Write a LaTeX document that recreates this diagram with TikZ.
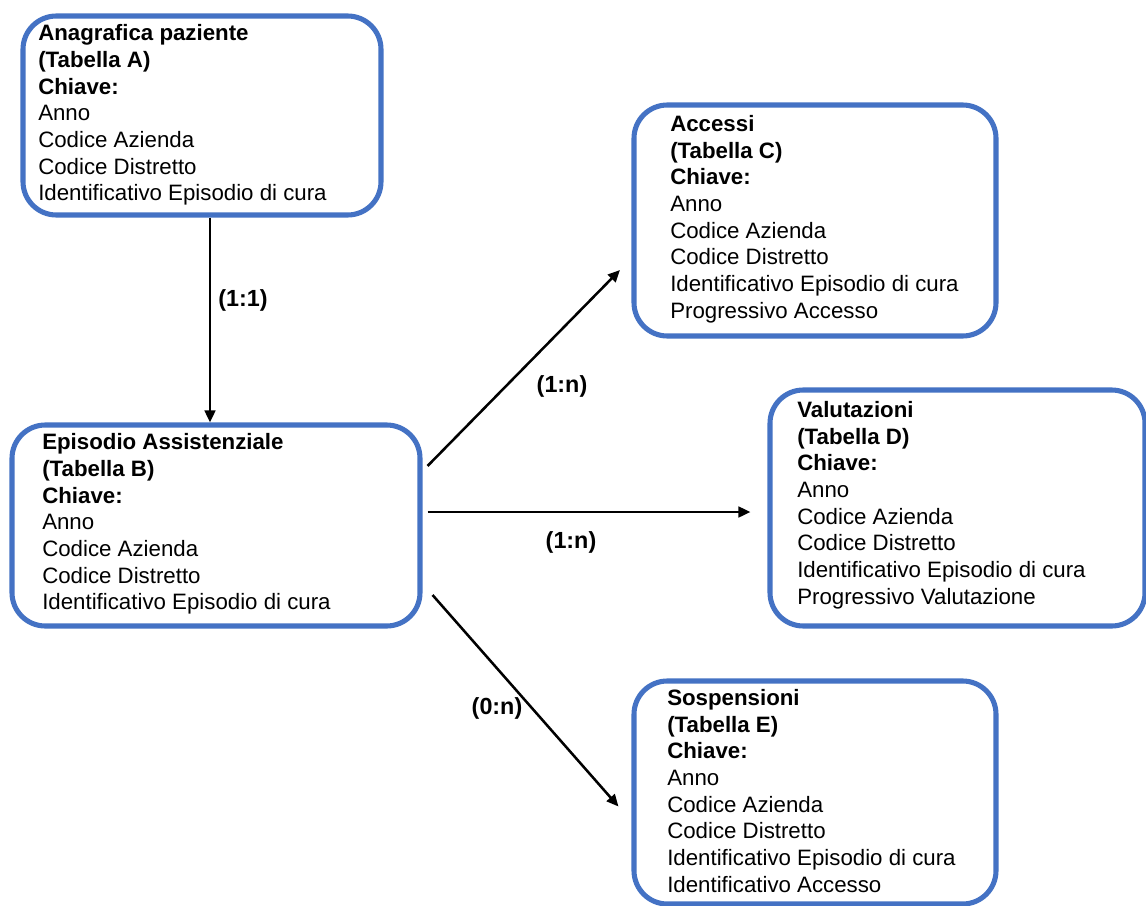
\documentclass[tikz,border=0pt]{standalone}
\usepackage{fontspec}
\setmainfont{Liberation Sans}
\usetikzlibrary{arrows.meta,calc,fit}
\definecolor{boxblue}{HTML}{4472C4}
\begin{document}
\begin{tikzpicture}[x=0.75pt,y=-0.75pt,
  box/.style={draw=boxblue, line width=3.8pt, rounded corners=25pt, inner sep=0pt, rectangle},
  txt/.style={align=left, anchor=west, inner sep=0pt, font=\fontsize{16.7pt}{20pt}\selectfont},
  arr/.style={-{Triangle[length=9pt,width=8pt]}, line width=1.9pt, black},
  lbl/.style={font=\fontsize{17.5pt}{20pt}\selectfont\bfseries, inner sep=0pt}]
\useasboundingbox[fill=white] (0,0) rectangle (1146,906);

% boxes
\node[box, fit={(23,16) (381,215)}] (A) {};
\node[box, fit={(12,425) (420,626)}] (B) {};
\node[box, fit={(634,105) (996,336)}] (C) {};
\node[box, fit={(770,390) (1145,626)}] (D) {};
\node[box, fit={(634,681) (996,904)}] (E) {};

% texts
\node[txt] (At) at (38,115) {\textbf{Anagrafica paziente}\\\textbf{(Tabella A)}\\\textbf{Chiave:}\\Anno\\Codice Azienda\\Codice Distretto\\Identificativo Episodio di cura};
\node[txt] (Bt) at (42,524) {\textbf{Episodio Assistenziale}\\\textbf{(Tabella B)}\\\textbf{Chiave:}\\Anno\\Codice Azienda\\Codice Distretto\\Identificativo Episodio di cura};
\node[txt] (Ct) at (670,219) {\textbf{Accessi}\\\textbf{(Tabella C)}\\\textbf{Chiave:}\\Anno\\Codice Azienda\\Codice Distretto\\Identificativo Episodio di cura\\Progressivo Accesso};
\node[txt] (Dt) at (797,505) {\textbf{Valutazioni}\\\textbf{(Tabella D)}\\\textbf{Chiave:}\\Anno\\Codice Azienda\\Codice Distretto\\Identificativo Episodio di cura\\Progressivo Valutazione};
\node[txt] (Et) at (667,791) {\textbf{Sospensioni}\\\textbf{(Tabella E)}\\\textbf{Chiave:}\\Anno\\Codice Azienda\\Codice Distretto\\Identificativo Episodio di cura\\Identificativo Accesso};

% connectors
\coordinate (ab) at ($(A.south)+(8,0)$);
\draw[arr] (ab) -- (ab |- B.north);
\draw[arr] ($(B.east)+(5,-59.5)$) -- ($(C.west)+(-11.5,49.5)$);
\coordinate (bd) at ($(B.east)+(5,-13.5)$);
\draw[arr] (bd) -- ($(bd -| D.west)+(-17,0)$);
\draw[arr] ($(B.east)+(10,69.5)$) -- ($(E.west)+(-13,14)$);

% labels
\node[lbl] (L1) at (243,300) {(1:1)};
\node[lbl] (L2) at (562,386) {(1:n)};
\node[lbl] (L3) at (571,542) {(1:n)};
\node[lbl] (L4) at (497,708) {(0:n)};
\end{tikzpicture}
\end{document}
